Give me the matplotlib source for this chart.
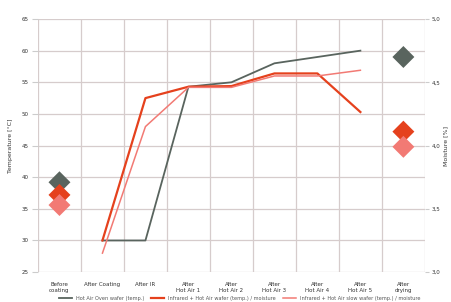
import numpy as np
import matplotlib
matplotlib.use('Agg')
import matplotlib.pyplot as plt
from matplotlib.ticker import FuncFormatter

steps = ['Before\ncoating', 'After Coating', 'After IR', 'After\nHot Air 1',
         'After\nHot Air 2', 'After\nHot Air 3', 'After\nHot Air 4',
         'After\nHot Air 5', 'After\ndrying']

# temperature lines (left axis), from "After Coating" to "After Hot Air 5"
temp_steps = [1, 2, 3, 4, 5, 6, 7]
temp_oven = [30, 30, 54.3, 55.0, 58.0, 59.0, 60.0]
temp_ir = [30, 52.5, 54.3, 54.4, 56.4, 56.4, 50.3]
temp_ir_slow = [28, 48, 54.2, 54.2, 56.0, 56.0, 56.9]

# moisture (right axis), before coating and after drying
moist_steps = [0, 8]
moist_oven = [3.71, 4.70]
moist_ir = [3.61, 4.11]
moist_ir_slow = [3.53, 3.99]

names = ['Hot Air Oven wafer (temp.)', 'Infrared + Hot Air wafer (temp.) / moisture',
         'Infrared + Hot Air slow wafer (temp.) / moisture']
colors = ['#59645e', '#e5411d', '#f27a74']

fig = plt.figure(figsize=(4.52, 3.02), dpi=100)
ax = fig.add_axes([0.084, 0.099, 0.856, 0.838])
ax2 = ax.twinx()

lw = [1.3, 1.6, 1.1]
for t, c, w, n in zip([temp_oven, temp_ir, temp_ir_slow], colors, lw, names):
    ax.plot(temp_steps, t, color=c, lw=w, label=n, zorder=3)

for m, c in zip([moist_oven, moist_ir, moist_ir_slow], colors):
    ax2.scatter(moist_steps, m, marker='D', s=125, color=c, edgecolor='none', zorder=3)

ax.set_xlim(-0.5, 8.5)
ax.set_ylim(25, 65)
ax.set_yticks(np.arange(25, 66, 5))
ax2.set_ylim(3.0, 5.0)
ax2.set_yticks(np.arange(3.0, 5.01, 0.5))
ax2.yaxis.set_major_formatter(FuncFormatter(lambda v, p: ('%.1f' % v).replace('.', ',')))

ax.set_xticks(range(len(steps)))
ax.set_xticklabels(steps, fontsize=4, color='#333333', linespacing=1.3)
ax.set_xticks(np.arange(-0.5, 9, 1), minor=True)
ax.tick_params(axis='x', which='both', length=0, pad=7)
ax.tick_params(axis='y', length=4, color='#cccccc', labelsize=4, labelcolor='#333333', pad=3)
ax2.tick_params(axis='y', length=3, color='#cccccc', labelsize=4, labelcolor='#333333', pad=2)

ax.grid(True, which='major', axis='y', color='#d6cccc', lw=0.9)
ax.grid(True, which='minor', axis='x', color='#d6cccc', lw=0.9)
for s in ax.spines.values():
    s.set_visible(False)
for s in ax2.spines.values():
    s.set_visible(False)

ax.set_ylabel('Temperature [°C]', fontsize=4.5, color='#333333', labelpad=6)
ax2.set_ylabel('Moisture [%]', fontsize=4.5, color='#333333', labelpad=2, rotation=90)

fig.legend(loc='lower center', bbox_to_anchor=(0.53, -0.012), ncol=3, fontsize=3.6,
           frameon=False, handlelength=2.5, columnspacing=1.5, labelcolor='#555555')

fig.savefig('out.png', dpi=100)
